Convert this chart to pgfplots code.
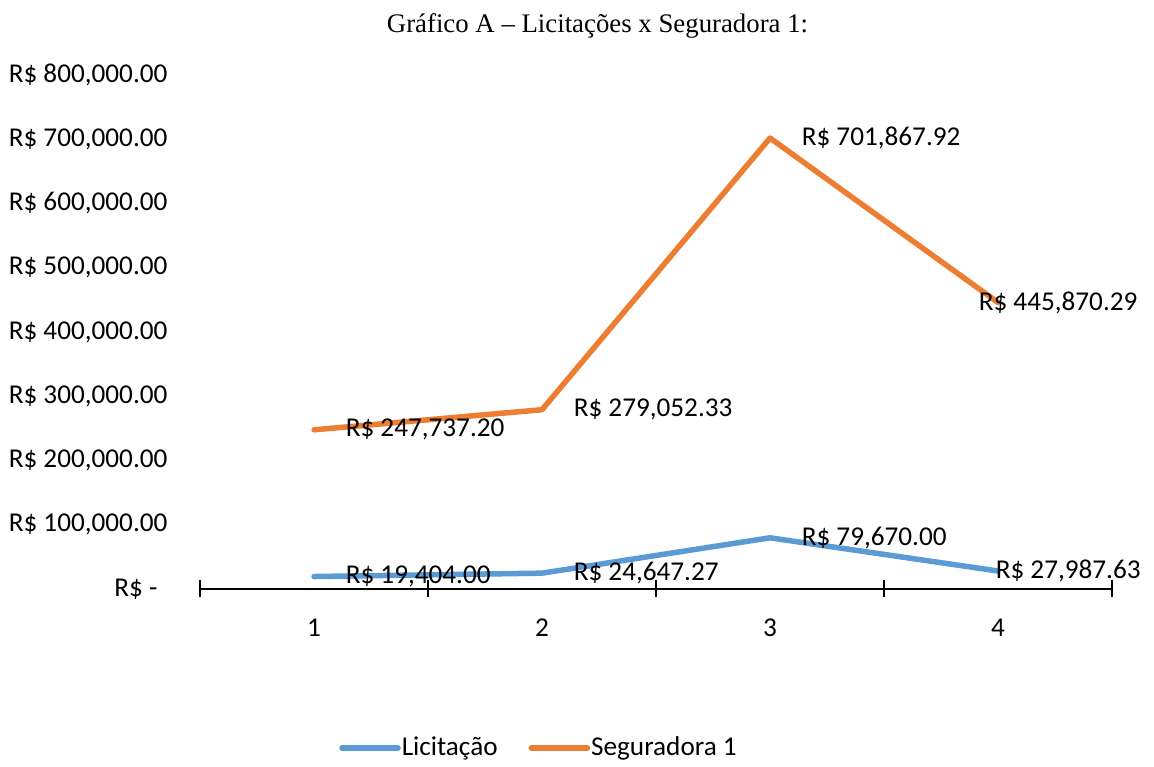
\documentclass[border=0pt]{standalone}
\usepackage{pgfplots}
\pgfplotsset{compat=1.18}
\usepackage{pgfplotstable}
\usepackage{fontspec}
\setmainfont{Carlito}
\newfontfamily\titlefont{Liberation Serif}
\definecolor{exblue}{HTML}{5B9BD5}
\definecolor{exorange}{HTML}{ED7D31}

\pgfplotstableread{
x y lab
1 19404.00 19,404.00
2 24647.27 24,647.27
3 79670.00 79,670.00
4 27987.63 27,987.63
}\licit
\pgfplotstableread{
x y lab
1 247737.20 247,737.20
2 279052.33 279,052.33
3 701867.92 701,867.92
4 445870.29 445,870.29
}\segur

\begin{document}
\begin{tikzpicture}
\begin{axis}[
  name=ax,
  scale only axis,
  width=456pt, height=257pt,
  xmin=0.5, xmax=4.5,
  ymin=0, ymax=800000,
  clip=false,
  font=\fontsize{13.6}{16}\selectfont,
  axis x line*=bottom,
  axis y line*=left,
  y axis line style={draw=none},
  x axis line style={line width=0.9pt, black, -},
  xtick={0.5,1.5,2.5,3.5,4.5},
  x tick label as interval,
  xticklabels={1,2,3,4},
  xtick style={line width=0.9pt, black},
  major tick length=8.5pt,
  tick align=center,
  xticklabel style={yshift=-7pt},
  ytick={0,100000,200000,300000,400000,500000,600000,700000,800000},
  yticklabels={{R\$ -\kern5pt\null},{R\$ 100,000.00},{R\$ 200,000.00},{R\$ 300,000.00},{R\$ 400,000.00},{R\$ 500,000.00},{R\$ 600,000.00},{R\$ 700,000.00},{R\$ 800,000.00}},
  ytick style={draw=none},
  yticklabel style={xshift=-8.5pt},
  scaled y ticks=false,
  legend columns=2,
  legend style={draw=none, fill=none, at={([xshift=169.25pt,yshift=-79.5pt]rel axis cs:0,0)}, anchor=center,
    font=\fontsize{13.6}{16}\selectfont, inner sep=0pt,
    nodes={inner xsep=0.5pt},
    /tikz/every even column/.append style={column sep=15pt}},
  legend image code/.code={\draw[#1, line cap=round] (0pt,0pt) -- (28pt,0pt);},
]
\addplot[exblue, line width=2.75pt, line join=round, line cap=round,
  point meta=explicit symbolic,
  nodes near coords={R\$ \pgfplotspointmeta},
  visualization depends on={x \as \myx},
  nodes near coords style={anchor=west, inner sep=0pt, xshift={(\myx>3.5)?-2.5:14.5}, black, font=\fontsize{13.6}{16}\selectfont},
] table[x=x, y=y, meta=lab]{\licit};
\addlegendentry{Licitação}
\addplot[exorange, line width=2.75pt, line join=round, line cap=round,
  point meta=explicit symbolic,
  nodes near coords={R\$ \pgfplotspointmeta},
  visualization depends on={x \as \myx},
  nodes near coords style={anchor=west, inner sep=0pt, xshift={(\myx>3.5)?-11:14.5}, black, font=\fontsize{13.6}{16}\selectfont},
] table[x=x, y=y, meta=lab]{\segur};
\addlegendentry{Seguradora 1}
\end{axis}
\node[font=\titlefont\fontsize{13.4}{16}\selectfont, anchor=center] at ([xshift=198.75pt,yshift=24.5pt]ax.north west) {Gráfico A – Licitações x Seguradora 1:};
\path ([xshift=-100pt,yshift=-89pt]ax.south west) rectangle ([xshift=21pt,yshift=37.5pt]ax.north east);
\end{tikzpicture}
\end{document}
